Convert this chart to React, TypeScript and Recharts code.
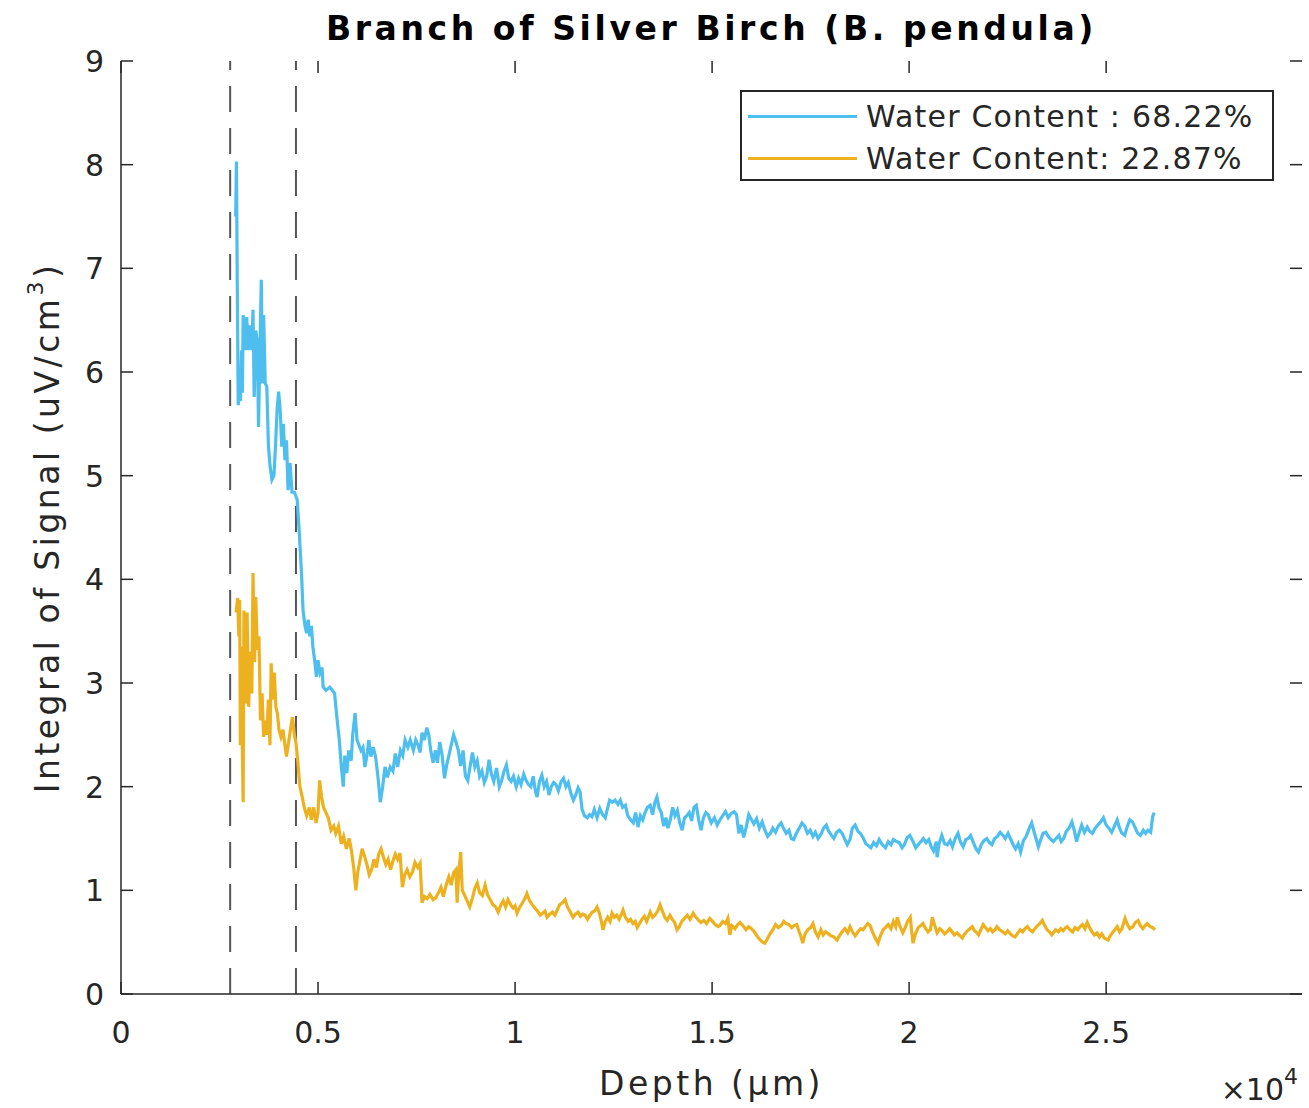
import { LineChart, Line, XAxis, YAxis, ReferenceLine, Label } from "recharts";

// depth in µm, signal in uV/cm^3
const wetSamples: [number, number][] = [
  [2910, 7.5], [2930, 8.03], [2950, 6.87], [2975, 5.68], [3000, 5.8], [3030, 5.72], [3060, 6.21], [3080, 5.8],
  [3100, 6.55], [3150, 6.21], [3190, 6.53], [3230, 6.21], [3270, 6.45], [3320, 6.21], [3350, 6.6], [3380, 5.76],
  [3420, 6.4], [3460, 6.29], [3490, 5.47], [3530, 6.3], [3560, 6.89], [3590, 5.89], [3620, 6.55], [3660, 5.89],
  [3700, 5.86], [3740, 5.3], [3780, 5.1], [3830, 4.96], [3880, 5.0], [3920, 5.28], [3960, 5.63], [4000, 5.81],
  [4040, 5.63], [4080, 5.28], [4120, 5.5], [4160, 5.15], [4200, 5.34], [4240, 4.86], [4290, 5.12], [4340, 4.84],
  [4400, 4.84], [4470, 4.77], [4520, 4.48], [4580, 4.06], [4620, 3.7], [4670, 3.55], [4710, 3.48], [4750, 3.61],
  [4790, 3.45], [4830, 3.55], [4870, 3.35], [4920, 3.2], [4960, 3.06], [5000, 3.22], [5050, 3.1], [5100, 3.15],
  [5130, 2.96], [5200, 2.93], [5300, 2.96], [5420, 2.9], [5470, 2.7], [5540, 2.45], [5590, 2.2], [5640, 2.0],
  [5680, 2.3], [5730, 2.13], [5780, 2.35], [5840, 2.25], [5880, 2.5], [5940, 2.71], [5990, 2.45], [6040, 2.4],
  [6090, 2.35], [6140, 2.38], [6190, 2.19], [6240, 2.3], [6290, 2.45], [6340, 2.29], [6400, 2.38], [6460, 2.29],
  [6520, 2.1], [6580, 1.85], [6640, 2.0], [6700, 2.19], [6760, 2.09], [6830, 2.19], [6900, 2.15], [6960, 2.32],
  [7020, 2.19], [7090, 2.35], [7150, 2.3], [7210, 2.45], [7280, 2.38], [7340, 2.45], [7420, 2.35], [7480, 2.45],
  [7540, 2.4], [7590, 2.33], [7640, 2.52], [7700, 2.45], [7760, 2.57], [7810, 2.5], [7860, 2.35], [7920, 2.23],
  [7980, 2.35], [8030, 2.23], [8090, 2.43], [8150, 2.3], [8210, 2.08], [8260, 2.2], [8320, 2.3], [8380, 2.4],
  [8440, 2.5], [8500, 2.43], [8560, 2.35], [8620, 2.2], [8680, 2.35], [8740, 2.1], [8800, 2.06], [8860, 2.2],
  [8920, 2.33], [8980, 2.19], [9040, 2.25], [9100, 2.1], [9160, 2.15], [9220, 2.04], [9280, 2.1], [9340, 2.26],
  [9400, 2.12], [9460, 2.05], [9530, 2.18], [9600, 2.0], [9660, 2.06], [9720, 2.15], [9780, 2.21], [9840, 2.08],
  [9900, 2.05], [9960, 2.1], [10030, 2.0], [10090, 2.08], [10150, 2.02], [10220, 2.12], [10280, 2.06], [10340, 2.02],
  [10400, 2.0], [10460, 2.1], [10520, 1.95], [10560, 1.9], [10620, 2.05], [10680, 2.11], [10740, 2.0], [10800, 2.05],
  [10860, 1.92], [10920, 2.0], [10980, 2.04], [11040, 2.02], [11100, 1.96], [11170, 2.05], [11230, 2.08], [11290, 2.0],
  [11350, 2.04], [11420, 1.93], [11480, 1.87], [11540, 1.92], [11600, 1.99], [11650, 1.95], [11700, 1.78], [11760, 1.72],
  [11830, 1.7], [11890, 1.73], [11950, 1.71], [12010, 1.78], [12080, 1.7], [12150, 1.79], [12220, 1.73], [12290, 1.7],
  [12340, 1.78], [12400, 1.87], [12470, 1.85], [12540, 1.87], [12610, 1.83], [12670, 1.87], [12730, 1.8], [12800, 1.82],
  [12860, 1.72], [12930, 1.68], [13000, 1.65], [13060, 1.75], [13120, 1.61], [13180, 1.72], [13240, 1.68], [13300, 1.75],
  [13360, 1.8], [13430, 1.82], [13490, 1.73], [13550, 1.85], [13600, 1.9], [13650, 1.8], [13710, 1.75], [13770, 1.62],
  [13830, 1.7], [13880, 1.6], [13940, 1.68], [14000, 1.8], [14060, 1.72], [14120, 1.77], [14180, 1.65], [14240, 1.58],
  [14300, 1.7], [14360, 1.72], [14420, 1.75], [14480, 1.67], [14540, 1.8], [14600, 1.82], [14660, 1.68], [14720, 1.58],
  [14780, 1.7], [14840, 1.75], [14900, 1.73], [14980, 1.65], [15060, 1.7], [15130, 1.63], [15200, 1.68], [15270, 1.72],
  [15340, 1.76], [15410, 1.7], [15480, 1.74], [15560, 1.76], [15620, 1.73], [15680, 1.55], [15740, 1.63], [15800, 1.51],
  [15860, 1.6], [15930, 1.73], [16000, 1.68], [16060, 1.64], [16130, 1.69], [16200, 1.6], [16270, 1.66], [16340, 1.58],
  [16410, 1.52], [16480, 1.55], [16540, 1.6], [16610, 1.56], [16680, 1.62], [16750, 1.65], [16810, 1.6], [16880, 1.55],
  [16950, 1.58], [17010, 1.5], [17070, 1.49], [17140, 1.55], [17210, 1.6], [17280, 1.65], [17350, 1.62], [17420, 1.55],
  [17490, 1.58], [17560, 1.52], [17620, 1.56], [17690, 1.5], [17760, 1.54], [17830, 1.6], [17900, 1.63], [17960, 1.57],
  [18030, 1.53], [18090, 1.5], [18160, 1.56], [18230, 1.58], [18300, 1.55], [18360, 1.5], [18430, 1.44], [18500, 1.49],
  [18560, 1.6], [18630, 1.63], [18700, 1.57], [18760, 1.55], [18830, 1.51], [18900, 1.45], [18970, 1.43], [19030, 1.41],
  [19100, 1.46], [19170, 1.43], [19240, 1.49], [19320, 1.44], [19400, 1.41], [19470, 1.47], [19540, 1.44], [19600, 1.49],
  [19680, 1.47], [19750, 1.46], [19820, 1.41], [19880, 1.44], [19950, 1.51], [20020, 1.53], [20100, 1.47], [20170, 1.41],
  [20250, 1.45], [20300, 1.47], [20360, 1.5], [20430, 1.46], [20500, 1.49], [20560, 1.42], [20620, 1.38], [20690, 1.47],
  [20710, 1.32], [20760, 1.45], [20830, 1.53], [20900, 1.45], [20970, 1.44], [21040, 1.48], [21100, 1.42], [21170, 1.5],
  [21240, 1.55], [21300, 1.47], [21370, 1.42], [21440, 1.49], [21500, 1.5], [21560, 1.53], [21630, 1.46], [21700, 1.4],
  [21760, 1.37], [21830, 1.44], [21900, 1.48], [21970, 1.5], [22040, 1.46], [22100, 1.44], [22170, 1.5], [22240, 1.52],
  [22310, 1.56], [22380, 1.53], [22440, 1.5], [22510, 1.55], [22570, 1.5], [22640, 1.44], [22700, 1.4], [22770, 1.45],
  [22830, 1.37], [22900, 1.48], [22970, 1.52], [23050, 1.6], [23110, 1.65], [23160, 1.58], [23220, 1.5], [23280, 1.42],
  [23340, 1.49], [23400, 1.55], [23470, 1.56], [23530, 1.52], [23600, 1.49], [23660, 1.47], [23730, 1.5], [23800, 1.53],
  [23860, 1.47], [23920, 1.5], [23990, 1.57], [24060, 1.6], [24130, 1.66], [24190, 1.58], [24250, 1.47], [24310, 1.55],
  [24380, 1.63], [24450, 1.56], [24520, 1.61], [24580, 1.57], [24650, 1.55], [24720, 1.6], [24790, 1.63], [24860, 1.66],
  [24930, 1.7], [25000, 1.63], [25070, 1.6], [25140, 1.56], [25210, 1.62], [25280, 1.68], [25340, 1.6], [25400, 1.55],
  [25470, 1.53], [25540, 1.62], [25600, 1.68], [25670, 1.66], [25740, 1.6], [25800, 1.55], [25870, 1.53], [25940, 1.58],
  [26000, 1.55], [26060, 1.58], [26130, 1.56], [26180, 1.71], [26220, 1.75],
];

const drySamples: [number, number][] = [
  [2920, 3.68], [2960, 3.82], [2990, 3.45], [3010, 3.8], [3030, 2.4], [3060, 3.35], [3080, 2.35], [3100, 1.85],
  [3120, 3.7], [3160, 2.8], [3200, 3.68], [3240, 2.77], [3280, 3.3], [3320, 2.9], [3350, 4.06], [3390, 3.2],
  [3420, 3.83], [3460, 3.32], [3500, 3.45], [3540, 2.64], [3580, 2.9], [3620, 2.48], [3660, 2.64], [3700, 2.5],
  [3740, 2.84], [3780, 2.4], [3810, 3.19], [3850, 2.84], [3890, 3.1], [3930, 2.77], [3970, 2.7], [4010, 2.55],
  [4060, 2.48], [4110, 2.55], [4160, 2.4], [4200, 2.29], [4250, 2.42], [4300, 2.55], [4350, 2.67], [4400, 2.5],
  [4440, 2.42], [4490, 2.23], [4540, 2.0], [4600, 1.9], [4650, 1.8], [4710, 1.72], [4780, 1.8], [4830, 1.68],
  [4890, 1.8], [4950, 1.65], [5000, 1.75], [5040, 2.06], [5090, 1.9], [5140, 1.8], [5200, 1.75], [5260, 1.7],
  [5330, 1.58], [5400, 1.62], [5450, 1.55], [5520, 1.62], [5590, 1.45], [5650, 1.52], [5720, 1.4], [5790, 1.5],
  [5850, 1.38], [5910, 1.2], [5960, 1.0], [6010, 1.18], [6070, 1.3], [6120, 1.4], [6180, 1.33], [6240, 1.25],
  [6300, 1.15], [6360, 1.2], [6420, 1.3], [6480, 1.22], [6540, 1.35], [6600, 1.4], [6660, 1.32], [6720, 1.25],
  [6780, 1.3], [6840, 1.2], [6900, 1.28], [6960, 1.35], [7020, 1.3], [7080, 1.36], [7140, 1.03], [7200, 1.15],
  [7260, 1.2], [7330, 1.13], [7400, 1.18], [7460, 1.27], [7530, 1.22], [7590, 1.26], [7640, 0.88], [7700, 0.94],
  [7770, 0.92], [7840, 0.96], [7920, 0.91], [7990, 0.93], [8060, 0.98], [8120, 1.03], [8180, 0.94], [8250, 1.05],
  [8320, 1.13], [8380, 1.05], [8440, 1.17], [8500, 1.2], [8530, 0.88], [8570, 1.15], [8620, 1.37], [8660, 1.0],
  [8700, 0.97], [8780, 0.9], [8850, 0.84], [8920, 0.93], [8980, 1.02], [9040, 1.07], [9100, 0.98], [9170, 0.95],
  [9240, 1.05], [9300, 0.96], [9370, 0.91], [9440, 0.86], [9510, 0.84], [9570, 0.79], [9640, 0.86], [9700, 0.9],
  [9760, 0.84], [9820, 0.91], [9890, 0.86], [9950, 0.83], [10000, 0.85], [10050, 0.78], [10120, 0.84], [10190, 0.88],
  [10250, 0.92], [10300, 0.97], [10370, 0.9], [10440, 0.86], [10500, 0.83], [10570, 0.8], [10640, 0.76], [10700, 0.78],
  [10760, 0.8], [10810, 0.74], [10880, 0.77], [10950, 0.79], [11010, 0.76], [11070, 0.81], [11130, 0.86], [11200, 0.88],
  [11270, 0.91], [11330, 0.84], [11400, 0.79], [11470, 0.74], [11530, 0.77], [11600, 0.79], [11660, 0.75], [11720, 0.77],
  [11780, 0.76], [11840, 0.72], [11900, 0.76], [11960, 0.79], [12020, 0.8], [12080, 0.84], [12140, 0.78], [12190, 0.7],
  [12230, 0.62], [12290, 0.7], [12350, 0.74], [12410, 0.7], [12460, 0.78], [12520, 0.74], [12580, 0.76], [12640, 0.72],
  [12700, 0.77], [12740, 0.81], [12800, 0.74], [12870, 0.7], [12930, 0.72], [12990, 0.68], [13050, 0.7], [13100, 0.64],
  [13160, 0.68], [13220, 0.72], [13280, 0.75], [13340, 0.7], [13400, 0.76], [13430, 0.79], [13490, 0.74], [13550, 0.76],
  [13620, 0.8], [13680, 0.86], [13740, 0.8], [13800, 0.74], [13860, 0.71], [13930, 0.76], [13990, 0.72], [14050, 0.69],
  [14110, 0.62], [14170, 0.65], [14230, 0.7], [14300, 0.73], [14370, 0.76], [14440, 0.72], [14520, 0.78], [14590, 0.74],
  [14660, 0.71], [14720, 0.69], [14790, 0.71], [14860, 0.68], [14940, 0.73], [15010, 0.7], [15080, 0.67], [15150, 0.65],
  [15200, 0.66], [15270, 0.7], [15340, 0.68], [15400, 0.73], [15450, 0.57], [15500, 0.66], [15580, 0.63], [15650, 0.67],
  [15710, 0.69], [15780, 0.66], [15860, 0.62], [15930, 0.65], [16000, 0.63], [16070, 0.6], [16140, 0.56], [16200, 0.53],
  [16280, 0.5], [16340, 0.49], [16400, 0.53], [16470, 0.58], [16540, 0.62], [16610, 0.67], [16680, 0.64], [16750, 0.66],
  [16820, 0.7], [16880, 0.68], [16950, 0.67], [17020, 0.64], [17080, 0.66], [17150, 0.67], [17210, 0.6], [17260, 0.55],
  [17300, 0.49], [17360, 0.58], [17430, 0.62], [17500, 0.64], [17560, 0.68], [17620, 0.6], [17690, 0.55], [17760, 0.62],
  [17820, 0.57], [17880, 0.6], [17950, 0.58], [18020, 0.56], [18090, 0.55], [18170, 0.52], [18230, 0.56], [18300, 0.6],
  [18370, 0.63], [18440, 0.59], [18500, 0.65], [18560, 0.6], [18630, 0.56], [18700, 0.6], [18770, 0.63], [18830, 0.62],
  [18890, 0.65], [18950, 0.68], [19010, 0.66], [19080, 0.59], [19140, 0.54], [19210, 0.49], [19270, 0.56], [19340, 0.62],
  [19400, 0.64], [19470, 0.67], [19540, 0.63], [19600, 0.7], [19660, 0.65], [19700, 0.74], [19760, 0.66], [19840, 0.59],
  [19900, 0.64], [19960, 0.7], [20030, 0.74], [20060, 0.62], [20100, 0.49], [20160, 0.58], [20230, 0.64], [20290, 0.66],
  [20350, 0.68], [20420, 0.63], [20480, 0.6], [20540, 0.62], [20590, 0.74], [20650, 0.66], [20710, 0.59], [20780, 0.63],
  [20840, 0.61], [20900, 0.58], [20960, 0.6], [21030, 0.63], [21090, 0.6], [21150, 0.57], [21220, 0.59], [21290, 0.56],
  [21350, 0.54], [21410, 0.58], [21480, 0.61], [21540, 0.63], [21600, 0.65], [21660, 0.61], [21720, 0.59], [21760, 0.57],
  [21820, 0.62], [21880, 0.67], [21940, 0.64], [22000, 0.61], [22060, 0.63], [22120, 0.6], [22180, 0.62], [22230, 0.65],
  [22300, 0.62], [22370, 0.6], [22440, 0.58], [22500, 0.61], [22570, 0.58], [22630, 0.56], [22690, 0.55], [22760, 0.59],
  [22820, 0.62], [22880, 0.6], [22940, 0.63], [23000, 0.65], [23060, 0.62], [23130, 0.6], [23190, 0.63], [23260, 0.66],
  [23320, 0.68], [23380, 0.71], [23440, 0.66], [23500, 0.62], [23560, 0.6], [23620, 0.57], [23660, 0.59], [23720, 0.62],
  [23790, 0.6], [23850, 0.63], [23910, 0.61], [23970, 0.64], [24010, 0.65], [24080, 0.62], [24150, 0.6], [24210, 0.64],
  [24280, 0.62], [24340, 0.65], [24400, 0.67], [24460, 0.63], [24520, 0.69], [24580, 0.64], [24640, 0.6], [24700, 0.57],
  [24770, 0.59], [24830, 0.55], [24890, 0.58], [24950, 0.54], [25050, 0.52], [25100, 0.56], [25160, 0.59], [25220, 0.62],
  [25280, 0.65], [25340, 0.6], [25400, 0.63], [25480, 0.73], [25540, 0.67], [25600, 0.63], [25680, 0.65], [25740, 0.69],
  [25810, 0.71], [25870, 0.66], [25930, 0.63], [25990, 0.66], [26040, 0.68], [26120, 0.65], [26180, 0.64], [26240, 0.62],
];

const seriesNames = ["Water Content : 68.22%", "Water Content: 22.87%"];
const seriesColors = ["#4DBEEE", "#EDB120"];
const boundaryDepths = [2770, 4440];
const xTicks = [0, 5000, 10000, 15000, 20000, 25000];
const yTicks = [0, 1, 2, 3, 4, 5, 6, 7, 8, 9];

const wetData = wetSamples.map(([depth, signal]) => ({ depth, signal }));
const dryData = drySamples.map(([depth, signal]) => ({ depth, signal }));

const W = 1309;
const H = 1108;
const PLOT_TOP = 61;
const PLOT_LEFT = 121;
const PLOT_RIGHT = 1302;
const TICK_LEN = 12;
const AXIS = "#262626";
const FONT = "'DejaVu Sans', sans-serif";

const XTick = (props: any) => {
  const { x, y, payload } = props;
  return (
    <g>
      <line x1={x} y1={y} x2={x} y2={y - TICK_LEN} stroke={AXIS} strokeWidth={1.5} />
      <line x1={x} y1={PLOT_TOP} x2={x} y2={PLOT_TOP + TICK_LEN} stroke={AXIS} strokeWidth={1.5} />
      <text x={x} y={y + 49} textAnchor="middle" fontSize={30} fill={AXIS} fontFamily={FONT}>
        {String(payload.value / 10000)}
      </text>
    </g>
  );
};

const YTick = (props: any) => {
  const { y, payload } = props;
  return (
    <g>
      <line x1={PLOT_LEFT} y1={y} x2={PLOT_LEFT + TICK_LEN} y2={y} stroke={AXIS} strokeWidth={1.5} />
      <line x1={PLOT_RIGHT} y1={y} x2={PLOT_RIGHT - TICK_LEN} y2={y} stroke={AXIS} strokeWidth={1.5} />
      <text x={PLOT_LEFT - 17} y={y + 11} textAnchor="end" fontSize={30} fill={AXIS} fontFamily={FONT}>
        {payload.value}
      </text>
    </g>
  );
};

const YLabel = (props: any) => {
  const { viewBox } = props;
  const cx = 47;
  const cy = viewBox.y + viewBox.height / 2;
  return (
    <text
      x={cx}
      y={cy}
      transform={`rotate(-90 ${cx} ${cy})`}
      textAnchor="middle"
      dominantBaseline="central"
      fontSize={33}
      letterSpacing={3.5}
      fill={AXIS}
      fontFamily={FONT}
    >
      Integral of Signal (uV/cm<tspan dy={-12} fontSize={22}>3</tspan>
      <tspan dy={12}>)</tspan>
    </text>
  );
};

const XLabel = (props: any) => {
  const { viewBox } = props;
  const cx = viewBox.x + viewBox.width / 2;
  return (
    <g fontFamily={FONT} fill={AXIS}>
      <text x={cx} y={1095} textAnchor="middle" fontSize={33} letterSpacing={3.5}>
        Depth (µm)
      </text>
      <text x={1298} y={1100} textAnchor="end" fontSize={30}>
        ×10<tspan dy={-16} fontSize={22}>4</tspan>
      </text>
    </g>
  );
};

export default function App() {
  return (
    <div style={{ position: "absolute", left: 0, top: 0, width: W, height: H, background: "#fff" }}>
      <LineChart width={W} height={H} margin={{ top: PLOT_TOP, right: 7, bottom: 54, left: 41 }}>
        <XAxis
          xAxisId="b"
          type="number"
          dataKey="depth"
          domain={[0, 29970]}
          ticks={xTicks}
          height={60}
          tickSize={0}
          tickMargin={0}
          tickLine={false}
          tick={<XTick />}
          axisLine={{ stroke: AXIS, strokeWidth: 1.5 }}
          allowDataOverflow
        >
          <Label content={<XLabel />} />
        </XAxis>
        <XAxis
          xAxisId="t"
          orientation="top"
          type="number"
          dataKey="depth"
          domain={[0, 29970]}
          height={0}
          tick={false}
          tickLine={false}
          axisLine={{ stroke: AXIS, strokeWidth: 1.5 }}
        />
        <YAxis
          yAxisId="l"
          type="number"
          domain={[0, 9]}
          ticks={yTicks}
          width={80}
          tickSize={0}
          tickMargin={0}
          tickLine={false}
          tick={<YTick />}
          axisLine={{ stroke: AXIS, strokeWidth: 1.5 }}
        >
          <Label content={<YLabel />} />
        </YAxis>
        <YAxis
          yAxisId="r"
          orientation="right"
          type="number"
          domain={[0, 9]}
          width={0}
          tick={false}
          tickLine={false}
          axisLine={{ stroke: AXIS, strokeWidth: 1.5 }}
        />
        {boundaryDepths.map((d) => (
          <ReferenceLine
            key={d}
            x={d}
            xAxisId="b"
            yAxisId="l"
            stroke="#555"
            strokeWidth={2}
            strokeDasharray="26 16"
          />
        ))}
        <Line
          xAxisId="b"
          yAxisId="l"
          data={wetData}
          dataKey="signal"
          name={seriesNames[0]}
          stroke={seriesColors[0]}
          strokeWidth={3.2}
          dot={false}
          type="linear"
          isAnimationActive={false}
        />
        <Line
          xAxisId="b"
          yAxisId="l"
          data={dryData}
          dataKey="signal"
          name={seriesNames[1]}
          stroke={seriesColors[1]}
          strokeWidth={3.2}
          dot={false}
          type="linear"
          isAnimationActive={false}
        />
      </LineChart>
      <div
        style={{
          position: "absolute",
          left: PLOT_LEFT,
          width: PLOT_RIGHT - PLOT_LEFT,
          top: 9,
          textAlign: "center",
          fontFamily: FONT,
          fontWeight: "bold",
          fontSize: 33,
          letterSpacing: 3.6,
          color: "#000",
          lineHeight: "40px",
        }}
      >
        Branch of Silver Birch (B. pendula)
      </div>
      <div
        style={{
          position: "absolute",
          left: 740,
          top: 90,
          width: 534,
          height: 91,
          boxSizing: "border-box",
          border: `2px solid ${AXIS}`,
          background: "#fff",
          fontFamily: FONT,
          fontSize: 30,
          letterSpacing: 1.2,
          color: AXIS,
        }}
      >
        {seriesNames.map((name, i) => (
          <div key={name} style={{ position: "absolute", left: 6, top: 4 + i * 42, height: 40, display: "flex", alignItems: "center" }}>
            <div style={{ width: 109, height: 3, background: seriesColors[i], marginRight: 9 }} />
            <span style={{ whiteSpace: "pre" }}>{name}</span>
          </div>
        ))}
      </div>
    </div>
  );
}
